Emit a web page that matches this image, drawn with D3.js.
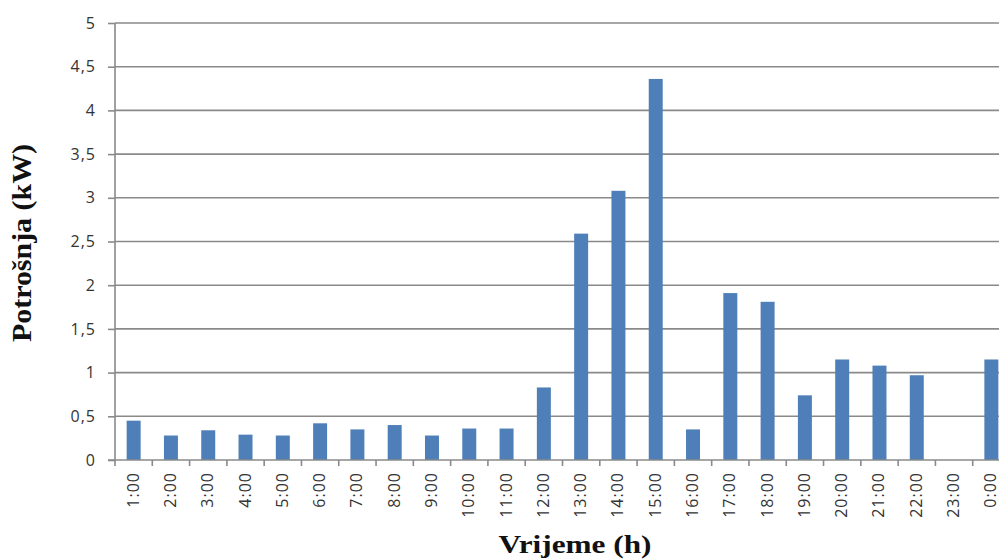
<!DOCTYPE html>
<html>
<head>
<meta charset="utf-8">
<script src="https://cdn.jsdelivr.net/npm/d3@7"></script>
<style>
html,body{margin:0;padding:0;background:#fff;overflow:hidden;}
svg{display:block;}
</style>
</head>
<body>
<svg id="chart" width="999" height="560"></svg>
<script>
const categories = ["1:00","2:00","3:00","4:00","5:00","6:00","7:00","8:00","9:00","10:00","11:00","12:00","13:00","14:00","15:00","16:00","17:00","18:00","19:00","20:00","21:00","22:00","23:00","0:00"];
const consumption = [0.45,0.28,0.34,0.29,0.28,0.42,0.35,0.40,0.28,0.36,0.36,0.83,2.59,3.08,4.36,0.35,1.91,1.81,0.74,1.15,1.08,0.97,0,1.15];
const yTicks = [0,0.5,1,1.5,2,2.5,3,3.5,4,4.5,5];
const yTitle = "Potrošnja (kW)";
const xTitle = "Vrijeme (h)";

(function () {
const svg = d3.select("#chart");
const mLeft = 115, mRight = 1010, mTop = 23, mBottom = 460;

const x = d3.scaleBand().domain(categories).range([mLeft, mRight]).paddingInner(0.625).paddingOuter(0.3125);
const y = d3.scaleLinear().domain([0, 5]).range([mBottom, mTop]);
const step = x.step();

// gridlines
svg.append("g").selectAll("line").data(yTicks.filter(d => d > 0)).join("line")
  .attr("x1", mLeft).attr("x2", mRight)
  .attr("y1", d => y(d)).attr("y2", d => y(d))
  .attr("stroke", "#8a8a8a").attr("stroke-width", 1.6);

// bars
svg.append("g").selectAll("rect").data(consumption).join("rect")
  .attr("x", (d, i) => x(categories[i]))
  .attr("width", x.bandwidth())
  .attr("y", d => y(d))
  .attr("height", d => mBottom - y(d))
  .attr("fill", "#4f7fb8");

// y axis
const yAxis = d3.axisLeft(y).tickValues(yTicks).tickSize(7).tickPadding(12)
  .tickFormat(d => String(d).replace(".", ","));
const gy = svg.append("g").attr("transform", `translate(${mLeft},0)`).call(yAxis);
gy.select(".domain").attr("stroke", "#8a8a8a").attr("stroke-width", 1.6).attr("d", `M0,${mTop}V${mBottom}`);
gy.selectAll(".tick line").attr("stroke", "#8a8a8a").attr("stroke-width", 1.6);
gy.selectAll(".tick text").attr("font-family", "'Open Sans', sans-serif").attr("font-size", 16)
  .attr("letter-spacing", "1px").attr("fill", "#333");

// x axis line
svg.append("line").attr("x1", mLeft - 7).attr("x2", mRight).attr("y1", mBottom).attr("y2", mBottom)
  .attr("stroke", "#8a8a8a").attr("stroke-width", 1.6);
// category boundary ticks
svg.append("g").selectAll("line").data(d3.range(categories.length + 1)).join("line")
  .attr("x1", i => mLeft + i * step).attr("x2", i => mLeft + i * step)
  .attr("y1", mBottom).attr("y2", mBottom + 6)
  .attr("stroke", "#8a8a8a").attr("stroke-width", 1.6);

// x labels rotated
svg.append("g").selectAll("text").data(categories).join("text")
  .attr("transform", d => `translate(${x(d) + x.bandwidth() / 2 + 5},${mBottom + 12}) rotate(-90)`)
  .attr("text-anchor", "end")
  .attr("font-family", "'Open Sans', sans-serif").attr("font-size", 16)
  .attr("letter-spacing", "1px").attr("fill", "#333")
  .text(d => d);

// axis titles
svg.append("text")
  .attr("x", 575).attr("y", 553)
  .attr("text-anchor", "middle")
  .attr("font-family", "'Liberation Serif', 'Times New Roman', serif")
  .attr("font-weight", "bold").attr("font-size", 26)
  .attr("textLength", 153).attr("lengthAdjust", "spacingAndGlyphs")
  .attr("fill", "#111")
  .text(xTitle);

svg.append("text")
  .attr("transform", "translate(31,243) rotate(-90)")
  .attr("text-anchor", "middle")
  .attr("font-family", "'Liberation Serif', 'Times New Roman', serif")
  .attr("font-weight", "bold").attr("font-size", 27)
  .attr("textLength", 198).attr("lengthAdjust", "spacingAndGlyphs")
  .attr("fill", "#111")
  .text(yTitle);
})();
</script>
</body>
</html>
